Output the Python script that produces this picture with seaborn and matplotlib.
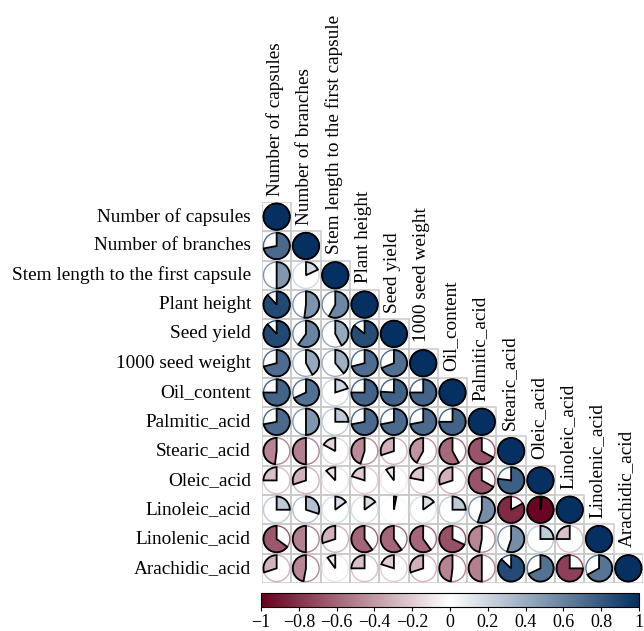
import numpy as np
import matplotlib
matplotlib.use("Agg")
import matplotlib.pyplot as plt
from matplotlib.patches import Wedge, Circle, Rectangle
from matplotlib.colors import ListedColormap, Normalize
import matplotlib.colorbar as mcolorbar
import seaborn as sns

# Trait names (rows top to bottom, columns left to right)
traits = [
    "Number of capsules", "Number of branches", "Stem length to the first capsule",
    "Plant height", "Seed yield", "1000 seed weight", "Oil_content",
    "Palmitic_acid", "Stearic_acid", "Oleic_acid", "Linoleic_acid",
    "Linolenic_acid", "Arachidic_acid",
]

# Lower-triangle Pearson correlations, one list per row
r_capsules   = [1.00]
r_branches   = [0.72, 1.00]
r_stem       = [0.50, 0.18, 1.00]
r_height     = [0.88, 0.52, 0.58, 1.00]
r_yield      = [0.88, 0.60, 0.42, 0.86, 1.00]
r_seedweight = [0.71, 0.42, 0.39, 0.71, 0.69, 1.00]
r_oil        = [0.75, 0.68, 0.20, 0.75, 0.76, 0.75, 1.00]
r_palmitic   = [0.72, 0.50, 0.25, 0.72, 0.72, 0.72, 0.75, 1.00]
r_stearic    = [-0.48, -0.50, -0.17, -0.45, -0.30, -0.42, -0.58, -0.67, 1.00]
r_oleic      = [-0.25, -0.30, -0.12, -0.20, -0.10, -0.22, -0.30, -0.67, 0.77, 1.00]
r_linoleic   = [0.25, 0.30, 0.15, 0.15, 0.03, 0.15, 0.25, 0.55, -0.83, -0.98, 1.00]
r_linolenic  = [-0.65, -0.50, -0.30, -0.60, -0.60, -0.60, -0.68, -0.47, 0.55, 0.25, -0.25, 1.00]
r_arachidic  = [-0.30, -0.47, -0.10, -0.25, -0.20, -0.30, -0.48, -0.50, 0.87, 0.68, -0.75, 0.67, 1.00]

rows = [r_capsules, r_branches, r_stem, r_height, r_yield, r_seedweight, r_oil,
        r_palmitic, r_stearic, r_oleic, r_linoleic, r_linolenic, r_arachidic]

cbar_ticks = [-1, -0.8, -0.6, -0.4, -0.2, 0, 0.2, 0.4, 0.6, 0.8, 1]

n = len(traits)
corr = np.full((n, n), np.nan)
for i, vals in enumerate(rows):
    corr[i, :len(vals)] = vals
mask = np.triu(np.ones((n, n), dtype=bool), k=1)

sns.set_theme(style="white")
plt.rcParams["font.family"] = ["Liberation Serif", "DejaVu Serif"]
plt.rcParams["axes.unicode_minus"] = True

cmap = sns.blend_palette(["#67001F", "#FFFFFF", "#053061"], n_colors=256, as_cmap=True)
norm = Normalize(-1, 1)
FS = 13.9

fig = plt.figure(figsize=(6.44, 6.31), dpi=100)
W, H = 644, 631
ax = fig.add_axes([262 / W, 1 - (202 + 381) / H, 381 / W, 381 / H])

# Lower-triangle cell area (white), labels on the left
sns.heatmap(np.zeros((n, n)), mask=mask, cmap=ListedColormap(["white"]), cbar=False,
            linewidths=0, square=True,
            xticklabels=False, yticklabels=traits, ax=ax)
ax.tick_params(axis="y", length=0, pad=8, labelsize=FS, labelcolor="black")
for t in ax.get_yticklabels():
    t.set_rotation(0)
ax.tick_params(axis="x", length=0)

# Grey borders of the lower-triangle cells only
for i in range(n):
    for j in range(i + 1):
        ax.add_patch(Rectangle((j, i), 1, 1, facecolor="none", edgecolor="#c9c9c9",
                               lw=1.1, zorder=2))

R = 0.45
for i in range(n):
    for j in range(i + 1):
        r = corr[i, j]
        col = cmap(norm(r))
        cx, cy = j + 0.5, i + 0.5
        ax.add_patch(Circle((cx, cy), R, facecolor="none", edgecolor=col, lw=1.0, zorder=3))
        frac = abs(r) * 360.0
        # y axis is inverted: clockwise from 12 o'clock for positive, anticlockwise for negative
        if r >= 0:
            t1, t2 = -90, -90 + frac
        else:
            t1, t2 = -90 - frac, -90
        ax.add_patch(Wedge((cx, cy), R, t1, t2, facecolor=col, edgecolor="black",
                           lw=1.3, zorder=4))

# Column labels above the diagonal
for j, name in enumerate(traits):
    ax.text(j + 0.45, j - 0.22, name, rotation=90, ha="center", va="bottom",
            fontsize=FS, color="black", clip_on=False)

# Colour bar
cax = fig.add_axes([261 / W, 1 - 607 / H, 378 / W, 14 / H])
cb = mcolorbar.ColorbarBase(cax, cmap=cmap, norm=norm, orientation="horizontal",
                            ticks=cbar_ticks)
cb.ax.set_xticklabels([("%g" % v).replace("-", "\u2212") for v in cbar_ticks])
cb.ax.tick_params(axis="x", direction="out", length=3, width=0.8, labelsize=13,
                  pad=2, bottom=True, colors="black")
cb.outline.set_linewidth(0.8)
cb.outline.set_edgecolor("black")

fig.savefig("out.png", dpi=100)
